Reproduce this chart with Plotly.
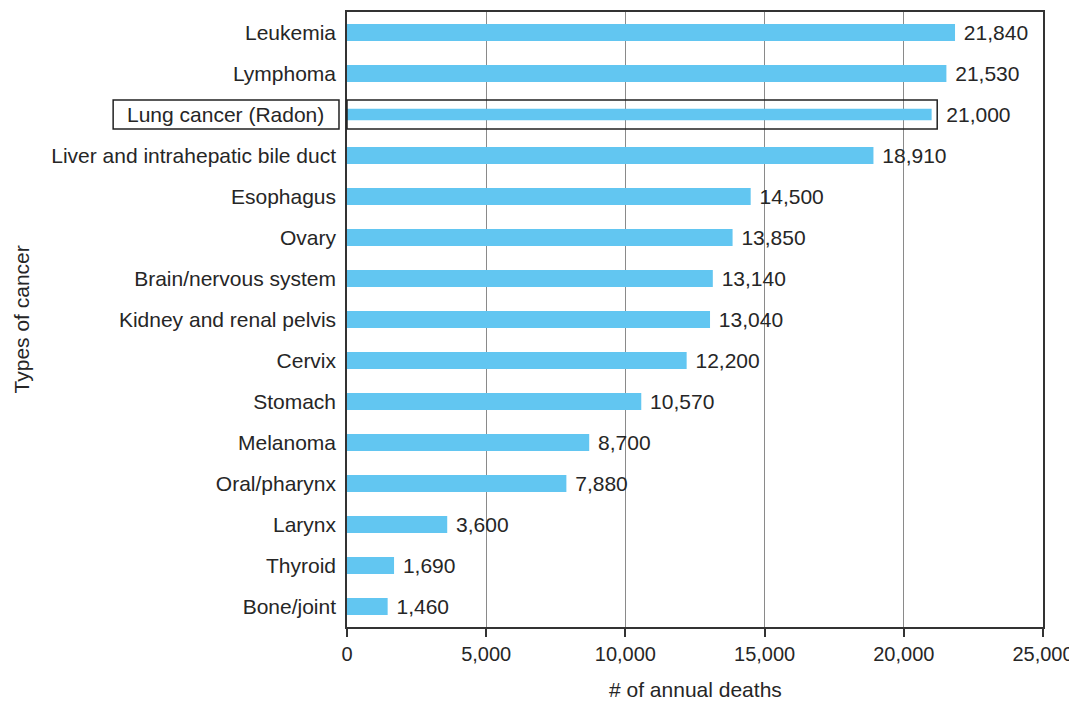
import plotly.graph_objects as go

categories = ["Leukemia", "Lymphoma", "Lung cancer (Radon)", "Liver and intrahepatic bile duct",
              "Esophagus", "Ovary", "Brain/nervous system", "Kidney and renal pelvis", "Cervix",
              "Stomach", "Melanoma", "Oral/pharynx", "Larynx", "Thyroid", "Bone/joint"]
deaths = [21840, 21530, 21000, 18910, 14500, 13850, 13140, 13040, 12200, 10570, 8700, 7880, 3600, 1690, 1460]
x_ticks = [0, 5000, 10000, 15000, 20000, 25000]
x_tick_labels = ["0", "5,000", "10,000", "15,000", "20,000", "25,000"]
highlight = "Lung cancer (Radon)"

bar_color = "#62C6F1"
text_color = "#262626"
font_family = "Liberation Sans, Arial, sans-serif"
fs = 21

main_cats = [c for c in categories if c != highlight]
main_vals = [v for c, v in zip(categories, deaths) if c != highlight]
hl_val = deaths[categories.index(highlight)]

fig = go.Figure()
fig.add_trace(go.Bar(
    y=main_cats, x=main_vals, orientation="h", width=0.42,
    marker=dict(color=bar_color, line=dict(width=0)),
    text=[f" {v:,}" for v in main_vals], textposition="outside", constraintext="none",
    textfont=dict(size=fs, color=text_color, family=font_family),
    cliponaxis=False, showlegend=False,
))
fig.add_trace(go.Bar(
    y=[highlight], x=[hl_val], orientation="h", width=0.28,
    marker=dict(color=bar_color, line=dict(width=0)),
    text=[f"  {hl_val:,}"], textposition="outside", constraintext="none",
    textfont=dict(size=fs, color=text_color, family=font_family),
    cliponaxis=False, showlegend=False,
))

order_bottom_up = list(reversed(categories))
hl_idx = order_bottom_up.index(highlight)
y_ticktext = ["" if c == highlight else c for c in order_bottom_up]

# page body has an 8px margin, so the figure is sized to fit the 1077x704 window
fig.update_layout(
    width=1069, height=696,
    margin=dict(l=339, r=34, t=4, b=77, autoexpand=False),
    plot_bgcolor="white", paper_bgcolor="white",
    font=dict(family=font_family, size=fs, color=text_color),
    barmode="overlay",
    xaxis=dict(
        range=[0, 25000], tickvals=x_ticks, ticktext=x_tick_labels,
        showgrid=True, gridcolor="#8a8a8a", gridwidth=1,
        showline=True, linecolor="#333333", linewidth=1.5, mirror=True,
        ticks="outside", ticklen=8, tickcolor="#333333", tickwidth=1.5,
        tickfont=dict(size=20, color=text_color), zeroline=False,
    ),
    yaxis=dict(
        categoryorder="array", categoryarray=order_bottom_up,
        tickmode="array", tickvals=order_bottom_up, ticktext=y_ticktext,
        range=[-0.5, len(categories) - 0.5],
        showline=True, linecolor="#333333", linewidth=1.5, mirror=True,
        ticks="outside", ticklen=5, tickcolor="rgba(0,0,0,0)",
        tickfont=dict(size=fs, color=text_color), showgrid=False,
    ),
    shapes=[
        dict(type="rect", xref="paper", yref="y", x0=-0.336, x1=-0.0115,
             y0=hl_idx - 0.355, y1=hl_idx + 0.355, line=dict(color="#222222", width=1.5)),
        dict(type="rect", xref="paper", yref="y", x0=0, x1=0.848,
             y0=hl_idx - 0.355, y1=hl_idx + 0.355, line=dict(color="#222222", width=1.5)),
    ],
    annotations=[
        dict(text=highlight, xref="paper", yref="y", x=-0.174, y=hl_idx,
             xanchor="center", yanchor="middle", showarrow=False, font=dict(size=fs, color=text_color)),
        dict(text="# of annual deaths", xref="paper", yref="paper", x=0.5, y=-0.102,
             xanchor="center", yanchor="middle", showarrow=False, font=dict(size=fs, color=text_color)),
        dict(text="Types of cancer", xref="paper", yref="paper", x=-0.467, y=0.5,
             xanchor="center", yanchor="middle", textangle=-90, showarrow=False,
             font=dict(size=fs, color=text_color)),
    ],
)

fig.write_html("out.html")
